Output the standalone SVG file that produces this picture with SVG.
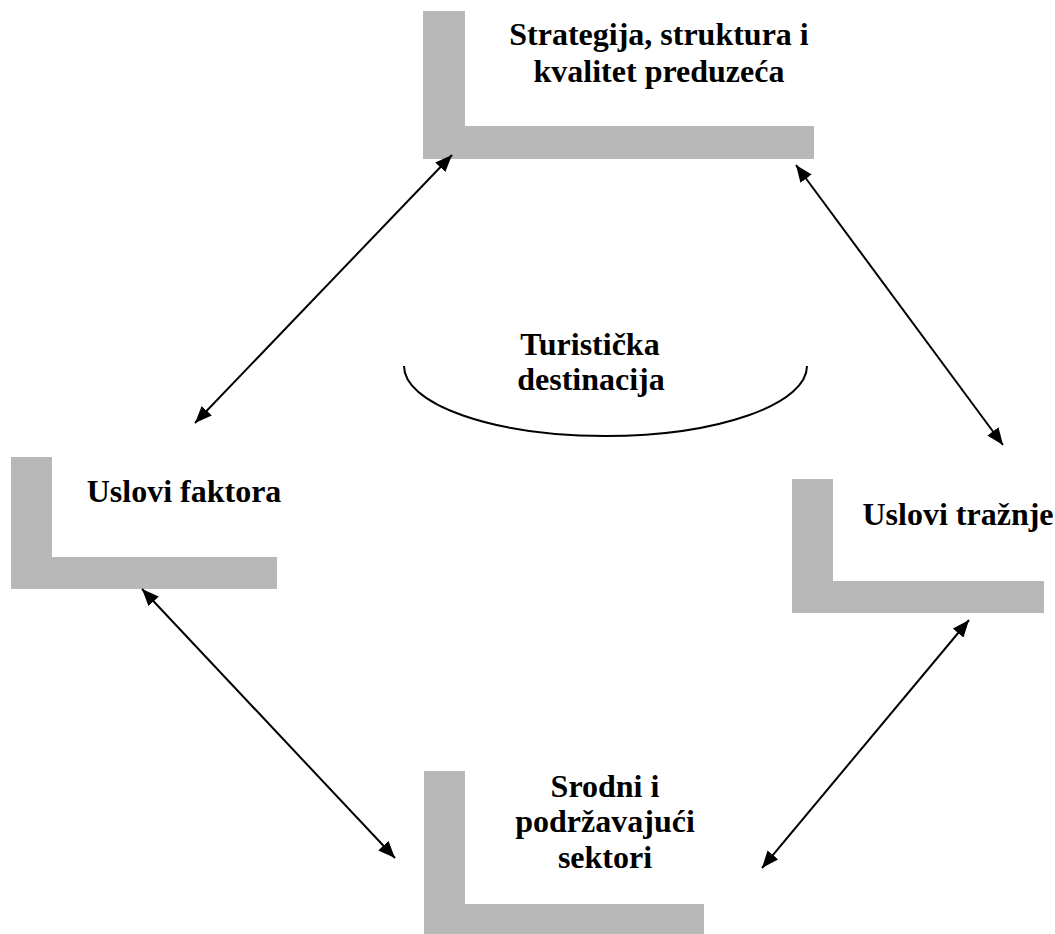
<svg xmlns="http://www.w3.org/2000/svg" width="1055" height="934" viewBox="0 0 1055 934">
<defs>
<style>
.bar{fill:#b8b8b8}
.lbl{font-family:"Liberation Serif","Times New Roman",serif;font-weight:bold;font-size:32px;fill:#000;text-anchor:middle}
.con{stroke:#000;stroke-width:2;fill:none;marker-start:url(#ah);marker-end:url(#ah)}
</style>
<marker id="ah" markerUnits="userSpaceOnUse" markerWidth="18" markerHeight="14" refX="17" refY="7" orient="auto-start-reverse" viewBox="0 0 18 14">
<path d="M0,0 L17,7 L0,14 Z" fill="#000"/>
</marker>
</defs>
<rect width="1055" height="934" fill="#fff"/>
<g id="node-strategija">
<rect class="bar" x="423" y="11" width="42" height="148"/>
<rect class="bar" x="423" y="126" width="391" height="33"/>
<text class="lbl" x="659" y="45">Strategija, struktura i</text>
<text class="lbl" x="659" y="82">kvalitet preduzeća</text>
</g>
<g id="node-faktori">
<rect class="bar" x="11" y="457" width="41" height="132"/>
<rect class="bar" x="11" y="557" width="266" height="32"/>
<text class="lbl" x="184" y="502">Uslovi faktora</text>
</g>
<g id="node-traznja">
<rect class="bar" x="792" y="479" width="41" height="134"/>
<rect class="bar" x="792" y="581" width="252" height="32"/>
<text class="lbl" x="958" y="525">Uslovi tražnje</text>
</g>
<g id="node-srodni">
<rect class="bar" x="424" y="771" width="41" height="163"/>
<rect class="bar" x="424" y="904" width="280" height="30"/>
<text class="lbl" x="605" y="797">Srodni i</text>
<text class="lbl" x="605" y="832">podržavajući</text>
<text class="lbl" x="605" y="868">sektori</text>
</g>
<g id="node-destinacija">
<path d="M404,366 A201.5,70 0 0 0 807,366" fill="none" stroke="#000" stroke-width="2"/>
<text class="lbl" x="590" y="355">Turistička</text>
<text class="lbl" x="591" y="390">destinacija</text>
</g>
<g id="connectors">
<line class="con" x1="195" y1="423" x2="452" y2="155"/>
<line class="con" x1="796" y1="165" x2="1003" y2="445"/>
<line class="con" x1="142" y1="589" x2="395" y2="858"/>
<line class="con" x1="969" y1="620" x2="762" y2="868"/>
</g>
</svg>
